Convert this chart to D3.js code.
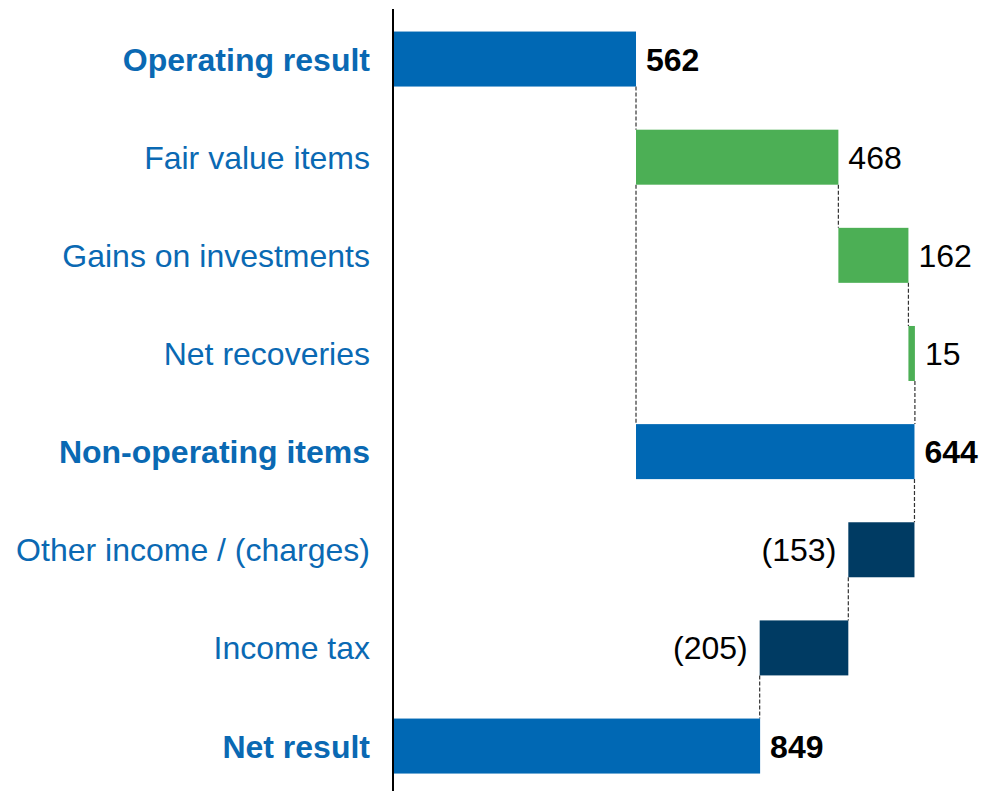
<!DOCTYPE html>
<html>
<head>
<meta charset="utf-8">
<script src="https://cdn.jsdelivr.net/npm/d3@7"></script>
<style>
  html, body { margin: 0; padding: 0; background: #fff; }
  svg { display: block; font-family: "Liberation Sans", Arial, sans-serif; }
</style>
</head>
<body>
<div id="chart"></div>
<script>
// waterfall: operating result -> net result
const categories = ['Operating result', 'Fair value items', 'Gains on investments', 'Net recoveries',
  'Non-operating items', 'Other income / (charges)', 'Income tax', 'Net result'];
const values = [562, 468, 162, 15, 644, -153, -205, 849];
const kinds = ['total', 'delta', 'delta', 'delta', 'subtotal', 'delta', 'delta', 'total'];
const valueLabels = ['562', '468', '162', '15', '644', '(153)', '(205)', '849'];

const COLORS = { total: '#0068b4', subtotal: '#0068b4', up: '#4caf55', down: '#003b63' };
const W = 982, H = 791;

// running totals -> bar extents
let running = 0, groupStart = 0, groupFirst = 0;
const bars = categories.map((c, i) => {
  const v = values[i], k = kinds[i];
  let s, e, gFirst = null;
  if (k === 'total') { s = 0; e = v; groupStart = e; groupFirst = i + 1; }
  else if (k === 'subtotal') { s = groupStart; e = groupStart + v; gFirst = groupFirst; groupStart = e; groupFirst = i + 1; }
  else { s = running; e = running + v; }
  running = e;
  return { c, v, k, s, e, lab: valueLabels[i], gFirst,
    color: k === 'delta' ? (v >= 0 ? COLORS.up : COLORS.down) : COLORS[k] };
});

const x = d3.scaleLinear().domain([0, 1000]).range([393, 825.4]);
const y = d3.scaleBand().domain(categories).range([-11.6, 816.7]).padding(0.4396);

const svg = d3.select('#chart').append('svg').attr('width', W).attr('height', H);

// connectors
const conn = [];
bars.forEach((d, i) => {
  if (i < bars.length - 1) conn.push({ xv: d.e, y1: y(d.c) + y.bandwidth(), y2: y(bars[i + 1].c) });
  if (d.k === 'subtotal') {
    const f = bars[d.gFirst];
    conn.push({ xv: d.s, y1: y(f.c) + y.bandwidth(), y2: y(d.c) });
  }
});
svg.append('g').selectAll('line').data(conn).join('line')
  .attr('x1', d => x(d.xv)).attr('x2', d => x(d.xv))
  .attr('y1', d => d.y1).attr('y2', d => d.y2)
  .attr('stroke', '#333').attr('stroke-width', 1.2).attr('stroke-dasharray', '4 2');

// bars
svg.append('g').selectAll('rect').data(bars).join('rect')
  .attr('x', d => x(Math.min(d.s, d.e)))
  .attr('width', d => Math.abs(x(d.e) - x(d.s)))
  .attr('y', d => y(d.c)).attr('height', y.bandwidth())
  .attr('fill', d => d.color);

// value labels
svg.append('g').selectAll('text').data(bars).join('text')
  .attr('x', d => d.v >= 0 ? x(d.e) + 10 : x(d.e) - 12)
  .attr('y', d => y(d.c) + y.bandwidth() / 2)
  .attr('dy', '0.36em')
  .attr('text-anchor', d => d.v >= 0 ? 'start' : 'end')
  .attr('font-size', 32)
  .attr('font-weight', d => d.k === 'delta' ? 'normal' : 'bold')
  .attr('fill', '#000')
  .text(d => d.lab);

// category labels
svg.append('g').selectAll('text').data(bars).join('text')
  .attr('x', 370)
  .attr('y', d => y(d.c) + y.bandwidth() / 2)
  .attr('dy', '0.36em')
  .attr('text-anchor', 'end')
  .attr('font-size', 32)
  .attr('font-weight', d => d.k === 'delta' ? 'normal' : 'bold')
  .attr('fill', '#0a69b3')
  .text(d => d.c);

// baseline axis
svg.append('line').attr('x1', x(0)).attr('x2', x(0)).attr('y1', 9).attr('y2', H)
  .attr('stroke', '#000').attr('stroke-width', 2);
</script>
</body>
</html>
